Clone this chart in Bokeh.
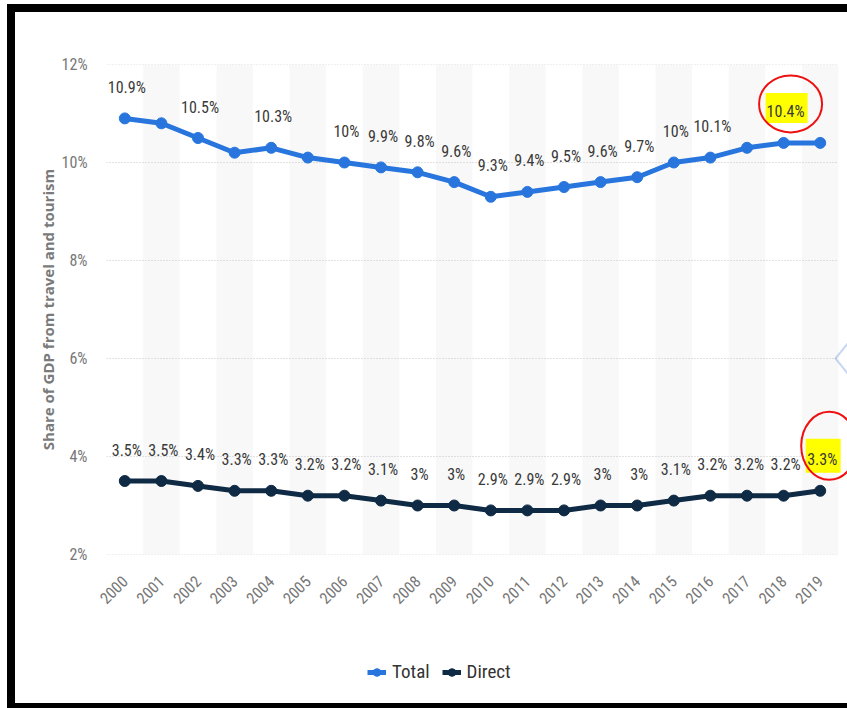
import math
from bokeh.plotting import figure
from bokeh.layouts import column
from bokeh.models import (Range1d, FixedTicker, PrintfTickFormatter, Legend, LegendItem,
                          PolyAnnotation, ColumnDataSource)
from bokeh.core.properties import value
from bokeh.embed import file_html
from bokeh.resources import INLINE

# ---------------- data ----------------
years = ["2000", "2001", "2002", "2003", "2004", "2005", "2006", "2007", "2008", "2009",
         "2010", "2011", "2012", "2013", "2014", "2015", "2016", "2017", "2018", "2019"]
total = [10.9, 10.8, 10.5, 10.2, 10.3, 10.1, 10.0, 9.9, 9.8, 9.6,
         9.3, 9.4, 9.5, 9.6, 9.7, 10.0, 10.1, 10.3, 10.4, 10.4]
direct = [3.5, 3.5, 3.4, 3.3, 3.3, 3.2, 3.2, 3.1, 3.0, 3.0,
          2.9, 2.9, 2.9, 3.0, 3.0, 3.1, 3.2, 3.2, 3.2, 3.3]
total_label_shown = [1, 0, 1, 0, 1, 0, 1, 1, 1, 1, 1, 1, 1, 1, 1, 1, 1, 0, 1, 0]
y_ticks = [2, 4, 6, 8, 10, 12]
series_names = ["Total", "Direct"]
y_title = "Share of GDP from travel and tourism"

# ---------------- layout / style ----------------
FW, FH = 832, 628          # main figure (inside the black screenshot frame)
ML, MR, MT, MB = 91, 0, 52, 86
PX_X = 36.6                # pixels per year
PX_Y = (FH - MT - MB) / (y_ticks[-1] - y_ticks[0])
FONT = "Roboto Condensed, DejaVu Sans Condensed, Liberation Sans Narrow, Roboto"
BLUE = "#2876dd"
NAVY = "#0f2a44"
LABEL_DY = -31

idx = list(range(len(years)))
x_end = -0.5 + (FW - ML - MR) / PX_X

p = figure(width=FW, height=FH, x_range=Range1d(-0.5, x_end),
           y_range=Range1d(y_ticks[0], y_ticks[-1]),
           output_backend="svg", toolbar_location=None,
           min_border_left=ML, min_border_right=MR, min_border_top=MT, min_border_bottom=MB)
p.outline_line_color = None
p.background_fill_color = "white"
p.border_fill_color = "white"
p.styles = {"background-color": "white"}

# alternating column bands
odd = [i for i in idx if i % 2 == 1]
p.vbar(x=odd, width=1, bottom=y_ticks[0], top=y_ticks[-1], fill_color="black",
       fill_alpha=0.028, line_alpha=0)

# horizontal dotted grid lines, spanning the category columns only
p.grid.visible = False
p.segment(x0=[-0.5] * len(y_ticks), x1=[len(years) - 0.55] * len(y_ticks),
          y0=y_ticks, y1=y_ticks, line_color="#c4c4c4", line_dash="1 2", line_width=1)

# axes
p.yaxis.ticker = FixedTicker(ticks=y_ticks)
p.yaxis.formatter = PrintfTickFormatter(format="%d%%")
p.xaxis.ticker = FixedTicker(ticks=idx)
p.xaxis.major_label_overrides = {i: years[i] for i in idx}
p.xaxis.major_label_orientation = math.pi / 4
for ax in (p.xaxis, p.yaxis):
    ax.axis_line_color = None
    ax.major_tick_line_color = None
    ax.minor_tick_line_color = None
    ax.major_label_text_font = FONT
    ax.major_label_text_font_size = "16px"
    ax.major_label_text_color = "#777777"
p.yaxis.major_label_standoff = 13
p.xaxis.major_label_standoff = 18
p.yaxis.axis_label = y_title
p.yaxis.axis_label_text_font = "Open Sans"
p.yaxis.axis_label_text_font_style = "bold"
p.yaxis.axis_label_text_font_size = "15px"
p.yaxis.axis_label_text_color = "#7a7a7a"
p.yaxis.axis_label_standoff = 1

# highlight boxes (behind labels)
hl_x = [idx[18] + 3 / PX_X, idx[19] + 3 / PX_X]
hl_y = [total[18] + 35 / PX_Y, direct[19] + 35 / PX_Y]
p.rect(x=hl_x, y=hl_y, width=[42, 35], height=[30, 34], width_units="screen",
       height_units="screen", fill_color="#ffff00", line_alpha=0)

# series
renderers = []
for vals, col in ((total, BLUE), (direct, NAVY)):
    ln = p.line(idx, vals, line_color=col, line_width=5, line_join="round")
    sc = p.scatter(idx, vals, size=11, fill_color=col, line_color=col)
    renderers.append([ln, sc])

# data labels
tsrc = ColumnDataSource(dict(
    x=[i for i in idx if total_label_shown[i]],
    y=[total[i] for i in idx if total_label_shown[i]],
    t=[f"{total[i]:g}%" for i in idx if total_label_shown[i]]))
dsrc = ColumnDataSource(dict(x=idx, y=direct, t=[f"{v:g}%" for v in direct]))
for src in (tsrc, dsrc):
    p.text(x="x", y="y", text="t", source=src, text_font=value(FONT),
           text_font_size="16px", text_color="#3a3a3a", text_align="center",
           text_baseline="middle", y_offset=LABEL_DY, x_offset=2)

# red hand-drawn circles
p.ellipse(x=[idx[18] + 7 / PX_X, idx[19] + 9 / PX_X],
          y=[total[18] + 39 / PX_Y, direct[19] + 45 / PX_Y],
          width=[63, 56], height=[57, 68], width_units="screen", height_units="screen",
          fill_alpha=0, line_color="#ee1111", line_width=2)

# side chevron (page widget at the right edge)
p.add_layout(PolyAnnotation(xs=[838, 820, 838], ys=[324, 346, 368], xs_units="canvas",
                            ys_units="canvas", fill_alpha=0, line_color="#4a7fd6", line_width=2))

# legend strip below the chart
leg = figure(width=FW, height=63, x_range=Range1d(0, 1), y_range=Range1d(0, 1),
             output_backend="svg", toolbar_location=None, min_border=0)
leg.axis.visible = False
leg.grid.visible = False
leg.outline_line_color = None
leg.styles = {"background-color": "white"}
items = []
for k, col in enumerate((BLUE, NAVY)):
    l2 = leg.line([-1, -2], [-1, -2], line_color=col, line_width=5)
    s2 = leg.scatter([-1], [-1], size=11, fill_color=col, line_color=col)
    items.append(LegendItem(label=series_names[k], renderers=[l2, s2]))
legend = Legend(items=items, location=(261, 20), orientation="horizontal",
                label_text_font=FONT, label_text_font_size="19px", label_text_color="#333333",
                border_line_color=None, background_fill_alpha=0, padding=0, margin=0,
                spacing=12, glyph_width=19, glyph_height=20, label_standoff=6)
leg.add_layout(legend)

p.margin = (8, 0, 0, 8)
leg.margin = (0, 0, 5, 8)
page = column(p, leg, spacing=0, margin=(4, 0, 0, 7), styles={"background-color": "black"})

open("out.html", "w").write(file_html(page, INLINE))
